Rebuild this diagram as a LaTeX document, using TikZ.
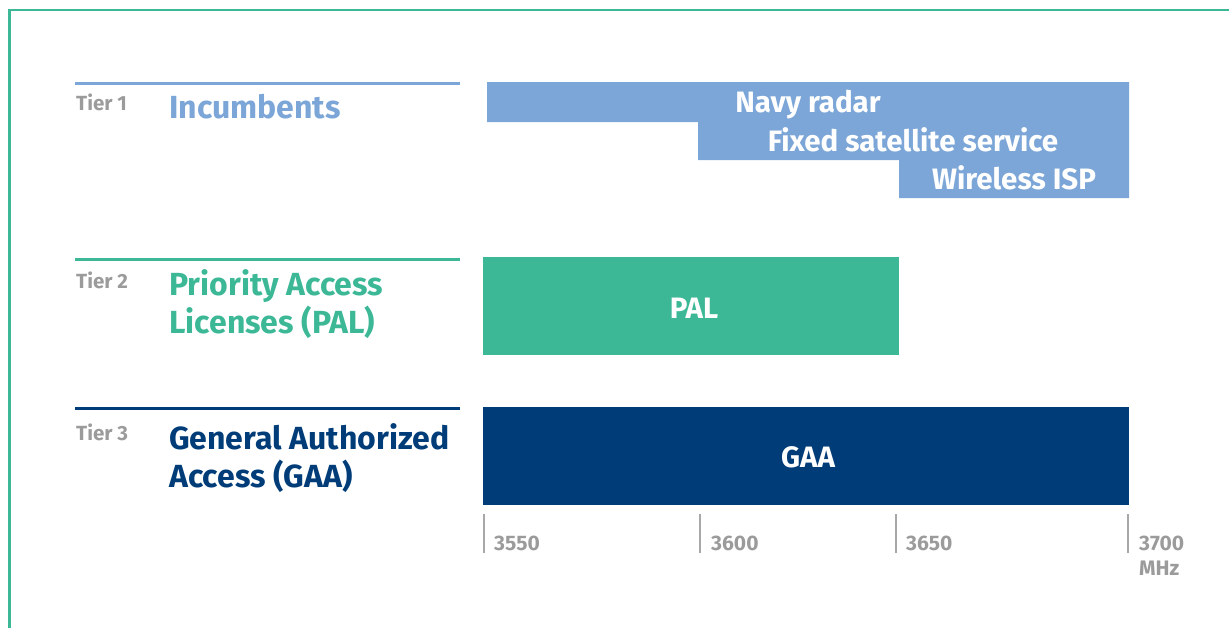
\documentclass[tikz,border=0pt]{standalone}
\usepackage{fontspec}
\setmainfont{Fira Sans}
\definecolor{teal}{HTML}{3DB897}
\definecolor{lblue}{HTML}{7BA6D7}
\definecolor{navy}{HTML}{003C78}
\definecolor{tgray}{HTML}{9B9B9B}
\definecolor{kgray}{HTML}{A8A8A8}
\tikzset{
  tierlbl/.style={anchor=base west, inner sep=0pt, text=tgray, font=\fontsize{20.5}{22}\selectfont\bfseries},
  head/.style={anchor=base west, inner sep=0pt, align=left, font=\fontsize{32}{38}\selectfont\bfseries},
  barlbl/.style={anchor=base, inner sep=0pt, text=white, font=\fontsize{29.5}{32}\selectfont\bfseries},
  ticklbl/.style={anchor=base west, inner sep=0pt, align=left, text=tgray, font=\fontsize{21}{25}\selectfont\bfseries},
  tierline/.style={line width=2.5pt},
  tickline/.style={kgray, line width=2.2pt}
}
\begin{document}
\begin{tikzpicture}[x=1pt,y=-1pt]
\useasboundingbox (0,0) rectangle (1229,627);
% frame
\draw[teal, line width=2.5pt] (1232,10) -- (9.5,10) -- (9.5,630);
% tier lines
\draw[tierline, lblue] (75,83.5) -- (460,83.5);
\draw[tierline, teal] (75,259.5) -- (460,259.5);
\draw[tierline, navy] (75,408.5) -- (460,408.5);
% tier labels
\node[tierlbl] (t1) at (76,110) {Tier 1};
\node[tierlbl] (t2) at (76,288) {Tier 2};
\node[tierlbl] (t3) at (76,440) {Tier 3};
\node[head, text=lblue] (h1) at (169,118) {Incumbents};
\node[head, text=teal] (h2) at (169,333) {Priority Access\\Licenses (PAL)};
\node[head, text=navy] (h3) at (169,487) {General Authorized\\Access (GAA)};
% incumbent bars
\fill[lblue] (487,82) -- (1129,82) -- (1129,198) -- (899,198) -- (899,160) -- (698,160) -- (698,122) -- (487,122) -- cycle;
\node[barlbl] (nr) at (808,112) {Navy radar};
\node[barlbl] (fs) at (913,151) {Fixed satellite service};
\node[barlbl] (wi) at (1014,189) {Wireless ISP};
% PAL
\fill[teal] (483,257) rectangle (899,355);
\node[barlbl] (pal) at (694,318) {PAL};
% GAA
\fill[navy] (483,407) rectangle (1129,505);
\node[barlbl] (gaa) at (808,467) {GAA};
% ticks
\draw[tickline] (484,514) -- (484,553);
\draw[tickline] (700,514) -- (700,553);
\draw[tickline] (896,514) -- (896,553);
\draw[tickline] (1128,514) -- (1128,553);
\node[ticklbl] (f1) at (494,550) {3550};
\node[ticklbl] (f2) at (711,550) {3600};
\node[ticklbl] (f3) at (906,550) {3650};
\node[ticklbl] (f4) at (1139,575) {3700\\MHz};
\end{tikzpicture}
\end{document}
